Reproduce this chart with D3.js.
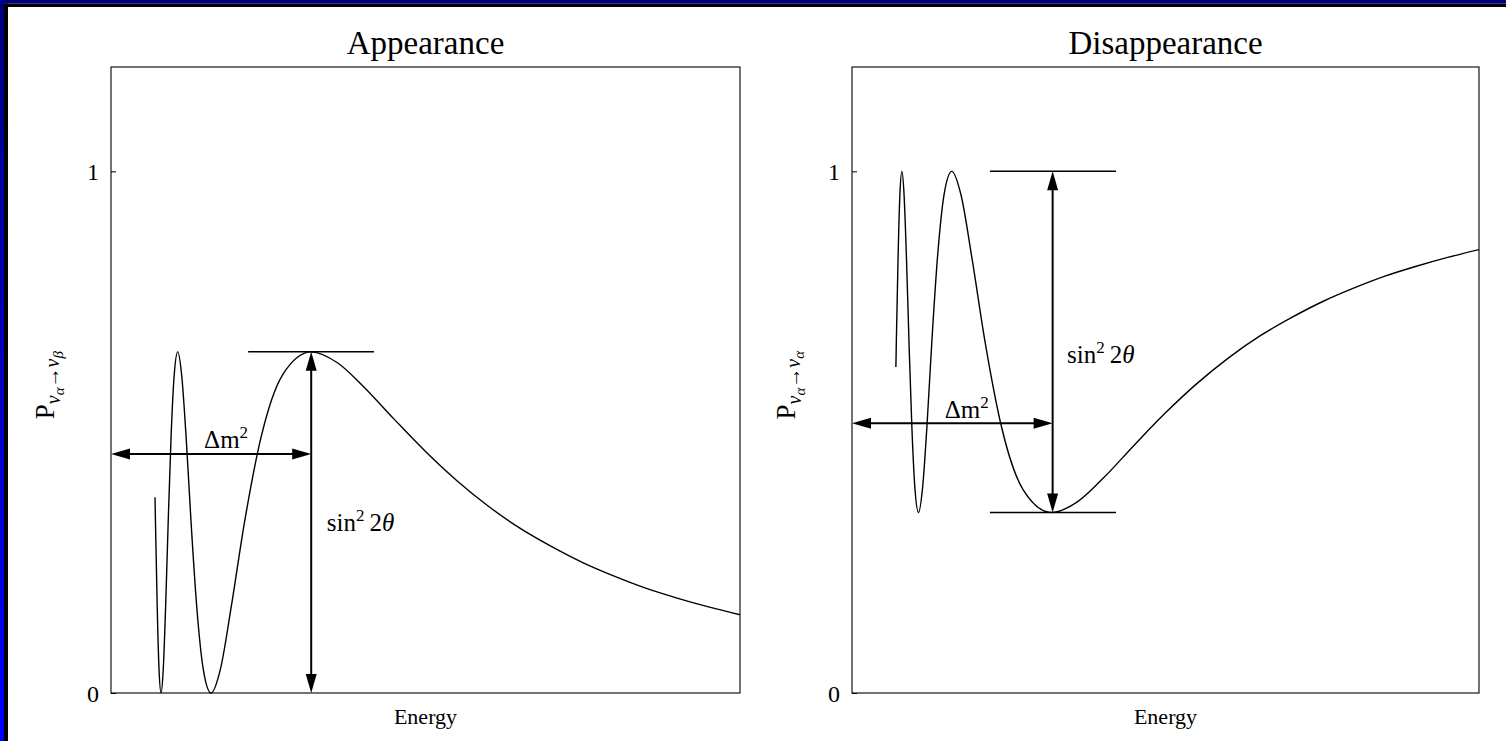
<!DOCTYPE html>
<html><head><meta charset="utf-8">
<script src="https://cdn.jsdelivr.net/npm/d3@7"></script>
<style>
html,body{margin:0;padding:0;background:#fff;overflow:hidden}
svg{display:block}
text{font-family:"Liberation Serif","Times New Roman",serif;fill:#000}
</style>
</head><body>
<svg id="chart" width="1506" height="741"></svg>
<script>
// ---- data ----
const energy = [0.700, 0.707, 0.735, 0.764, 0.796, 0.830, 0.868, 0.909, 0.955, 1.005, 1.061, 1.123, 1.194, 1.273, 1.364, 1.469, 1.592, 1.736, 1.910, 2.122, 2.387, 2.728, 3.183, 3.6, 4, 4.5, 5, 5.5, 6, 6.5, 7, 7.5, 8, 8.5, 9, 9.5, 10];
const appearanceP = [0.375, 0.327, 0.164, 0.044, 0, 0.044, 0.164, 0.327, 0.491, 0.610, 0.654, 0.610, 0.491, 0.327, 0.164, 0.044, 0, 0.044, 0.164, 0.327, 0.491, 0.610, 0.654, 0.633, 0.589, 0.525, 0.463, 0.407, 0.358, 0.316, 0.281, 0.250, 0.224, 0.201, 0.182, 0.165, 0.150];
const disappearanceP = [0.625, 0.673, 0.836, 0.956, 1, 0.956, 0.836, 0.673, 0.509, 0.390, 0.346, 0.390, 0.509, 0.673, 0.836, 0.956, 1, 0.956, 0.836, 0.673, 0.509, 0.390, 0.346, 0.367, 0.411, 0.475, 0.537, 0.593, 0.642, 0.684, 0.719, 0.750, 0.776, 0.799, 0.818, 0.835, 0.850];
const panelTitles = ["Appearance", "Disappearance"];
const xAxisLabel = "Energy";
const yTickValues = [0, 1];
const yTickLabels = ["0", "1"];
const amplitude = 0.654;        // sin^2 2θ
const firstMaxEnergy = 3.183;   // Δm² marker position
const appDm2Level = 0.458;
const disDm2Level = 0.517;

// ---- layout ----
const W = 1506, H = 741;
const plotTop = 67, plotBottom = 693;
const panels = [
  {x0: 111, x1: 740, values: appearanceP, title: panelTitles[0], sub2: "β"},
  {x0: 852, x1: 1479, values: disappearanceP, title: panelTitles[1], sub2: "α"}
];

const svg = d3.select("#chart");

// blue frame
const defs = svg.append("defs");
const grad = defs.append("linearGradient").attr("id", "lg").attr("x1", 0).attr("y1", 0).attr("x2", 0).attr("y2", 1);
grad.append("stop").attr("offset", "0%").attr("stop-color", "#000080");
grad.append("stop").attr("offset", "100%").attr("stop-color", "#0000ff");
svg.append("rect").attr("x", 0).attr("y", 0).attr("width", W).attr("height", 3.5).attr("fill", "#000080");
svg.append("rect").attr("x", 0).attr("y", 0).attr("width", 4).attr("height", H).attr("fill", "url(#lg)");
svg.append("rect").attr("x", 4).attr("y", 3.5).attr("width", W).attr("height", 3.5).attr("fill", "#000");
svg.append("rect").attr("x", 4).attr("y", 3.5).attr("width", 4).attr("height", H).attr("fill", "#000");

function arrow(g, xA, yA, xB, yB) {
  const len = 19, hw = 5.5;
  const dx = xB - xA, dy = yB - yA, L = Math.hypot(dx, dy);
  const ux = dx / L, uy = dy / L, px = -uy, py = ux;
  g.append("line")
    .attr("x1", xA + ux * len * 0.8).attr("y1", yA + uy * len * 0.8)
    .attr("x2", xB - ux * len * 0.8).attr("y2", yB - uy * len * 0.8)
    .attr("stroke", "#000").attr("stroke-width", 2);
  const head = (tx, ty, sx, sy) => {
    const bx = tx + sx * len, by = ty + sy * len;
    g.append("path")
      .attr("d", `M${tx},${ty}L${bx + px * hw},${by + py * hw}L${bx - px * hw},${by - py * hw}Z`)
      .attr("fill", "#000");
  };
  head(xA, yA, ux, uy);
  head(xB, yB, -ux, -uy);
}

function supLabel(g, x, y, base, sup, rest, anchor) {
  const t = g.append("text").attr("x", x).attr("y", y).attr("font-size", 25).attr("text-anchor", anchor || "start");
  t.append("tspan").text(base);
  t.append("tspan").attr("font-size", 17).attr("dy", -10).text(sup);
  if (rest) {
    t.append("tspan").attr("dy", 10).attr("dx", 5).text("2");
    t.append("tspan").attr("font-style", "italic").text("θ");
  }
  return t;
}

panels.forEach((p, i) => {
  const x = d3.scaleLinear().domain([0, 10]).range([p.x0, p.x1]);
  const y = d3.scaleLinear().domain([0, 1.2]).range([plotBottom, plotTop]);
  const g = svg.append("g");

  // frame
  g.append("rect").attr("x", p.x0).attr("y", plotTop).attr("width", p.x1 - p.x0).attr("height", plotBottom - plotTop)
    .attr("fill", "none").attr("stroke", "#000").attr("stroke-width", 1.1);

  // y axis
  const ax = g.append("g").attr("transform", `translate(${p.x0},0)`)
    .call(d3.axisLeft(y).tickValues(yTickValues).tickFormat((d, j) => yTickLabels[j]).tickSizeInner(-5).tickSizeOuter(0).tickPadding(12));
  ax.select(".domain").remove();
  ax.selectAll("line").attr("stroke", "#000");
  ax.selectAll("text").attr("font-size", 24).attr("font-family", "Liberation Serif, serif").attr("dy", "0.36em");

  // title
  g.append("text").attr("x", (p.x0 + p.x1) / 2).attr("y", 54).attr("text-anchor", "middle")
    .attr("font-size", 33).text(p.title);
  // x label
  g.append("text").attr("x", (p.x0 + p.x1) / 2).attr("y", 724).attr("text-anchor", "middle")
    .attr("font-size", 22).text(xAxisLabel);
  // y label
  const yl = g.append("text").attr("transform", `translate(${p.x0 - 57},${y(0.59)}) rotate(-90)`)
    .attr("text-anchor", "middle").attr("font-size", 27);
  yl.append("tspan").text("P");
  yl.append("tspan").attr("font-size", 20).attr("font-style", "italic").attr("dy", 6).text("ν");
  yl.append("tspan").attr("font-size", 15).attr("font-style", "italic").attr("dy", 4).text("α");
  yl.append("tspan").attr("font-size", 20).attr("dy", -5).text("→");
  yl.append("tspan").attr("font-size", 20).attr("font-style", "italic").text("ν");
  yl.append("tspan").attr("font-size", 15).attr("font-style", "italic").attr("dy", 4).text(p.sub2);

  // curve
  const pts = energy.map((e, j) => [e, p.values[j]]);
  g.append("path").datum(pts)
    .attr("d", d3.line().x(d => x(d[0])).y(d => y(d[1])).curve(d3.curveMonotoneX))
    .attr("fill", "none").attr("stroke", "#000").attr("stroke-width", 1.4);

  // annotations
  if (i === 0) {
    g.append("line").attr("x1", x(2.18)).attr("x2", x(4.18)).attr("y1", y(amplitude)).attr("y2", y(amplitude))
      .attr("stroke", "#000").attr("stroke-width", 1.5);
    arrow(g, x(firstMaxEnergy), y(amplitude), x(firstMaxEnergy), y(0));
    arrow(g, x(0), y(appDm2Level), x(firstMaxEnergy), y(appDm2Level));
    supLabel(g, x(1.83), y(0.469), "Δm", "2", false, "middle");
    supLabel(g, x(3.43), y(0.31), "sin", "2", true);
  } else {
    [1, 1 - amplitude].forEach(v => {
      g.append("line").attr("x1", x(2.20)).attr("x2", x(4.21)).attr("y1", y(v)).attr("y2", y(v))
        .attr("stroke", "#000").attr("stroke-width", 1.5);
    });
    arrow(g, x(3.2), y(1), x(3.2), y(1 - amplitude));
    arrow(g, x(0), y(disDm2Level), x(3.2), y(disDm2Level));
    supLabel(g, x(1.83), y(0.527), "Δm", "2", false, "middle");
    supLabel(g, x(3.43), y(0.632), "sin", "2", true);
  }
});
</script>
</body></html>
